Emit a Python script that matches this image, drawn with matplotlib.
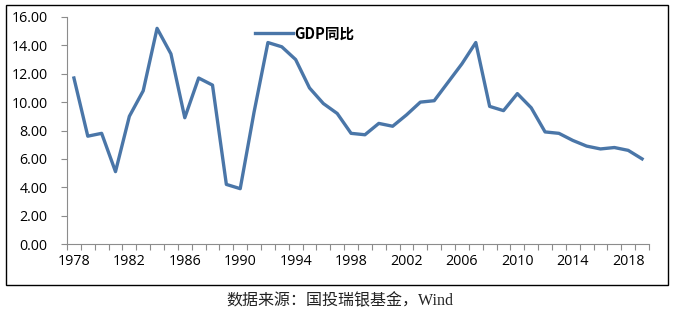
import matplotlib
matplotlib.use("Agg")
import matplotlib.pyplot as plt
from matplotlib.patches import Rectangle

plt.rcParams["font.family"] = ["Noto Sans CJK SC", "DejaVu Sans"]

# --- data ---
years = list(range(1978, 2020))
gdp_yoy = [11.7, 7.6, 7.8, 5.1, 9.0, 10.8, 15.2, 13.4, 8.9, 11.7,
           11.2, 4.2, 3.9, 9.3, 14.2, 13.9, 13.0, 11.0, 9.9, 9.2,
           7.8, 7.7, 8.5, 8.3, 9.1, 10.0, 10.1, 11.4, 12.7, 14.2,
           9.7, 9.4, 10.6, 9.6, 7.9, 7.8, 7.3, 6.9, 6.7, 6.8,
           6.6, 6.0]
y_ticks = [0, 2, 4, 6, 8, 10, 12, 14, 16]
series_name = "GDP同比"
source_text = "数据来源：国投瑞银基金，Wind"

LINE = "#4A76A8"
AXIS = "#8C8C8C"
TICK_FONT = ["Open Sans", "DejaVu Sans"]

fig = plt.figure(figsize=(6.8, 3.3), dpi=100)
fig.patch.set_facecolor("white")

# outer chart frame
fig.add_artist(Rectangle((6 / 680, 1 - 285 / 330), 662 / 680, 280 / 330,
                         transform=fig.transFigure, fill=False,
                         edgecolor="black", linewidth=1.0))

ax = fig.add_axes([67 / 680, 1 - 244 / 330, 582 / 680, 227 / 330])
x = list(range(len(years)))
ax.plot(x, gdp_yoy, color=LINE, linewidth=2.4, solid_joinstyle="round",
        label=series_name)

ax.set_xlim(-0.5, len(years) - 0.5)
ax.set_ylim(0, 16)
ax.set_yticks(y_ticks)
ax.set_yticklabels([f"{v:.2f}" for v in y_ticks], fontsize=10.3, family=TICK_FONT)

# category axis: ticks at boundaries, labels every 4 years
ax.set_xticks([i - 0.5 for i in range(len(years) + 1)])
ax.set_xticklabels([])
ax.set_xticks(x[::4], minor=True)
ax.set_xticklabels([str(y) for y in years[::4]], minor=True, fontsize=10.3,
                   family=TICK_FONT)
ax.tick_params(axis="x", which="major", direction="out", length=4,
               color=AXIS, width=0.8)
ax.tick_params(axis="x", which="minor", length=0, pad=7)
ax.tick_params(axis="y", direction="out", length=4, color=AXIS, width=0.8, pad=10)

for side in ("top", "right"):
    ax.spines[side].set_visible(False)
for side in ("left", "bottom"):
    ax.spines[side].set_color(AXIS)
    ax.spines[side].set_linewidth(0.8)

ax.legend(loc="upper left", bbox_to_anchor=(0.30, 1.02), frameon=False,
          handlelength=2.6, handletextpad=0.1, prop={"weight": "bold", "size": 10.5})

fig.text(340 / 680, 1 - 301 / 330, source_text, ha="center", va="center",
         fontsize=11.5, color="#222222",
         family=["Liberation Serif", "Noto Sans CJK SC"])

fig.savefig("out.png", dpi=100)
